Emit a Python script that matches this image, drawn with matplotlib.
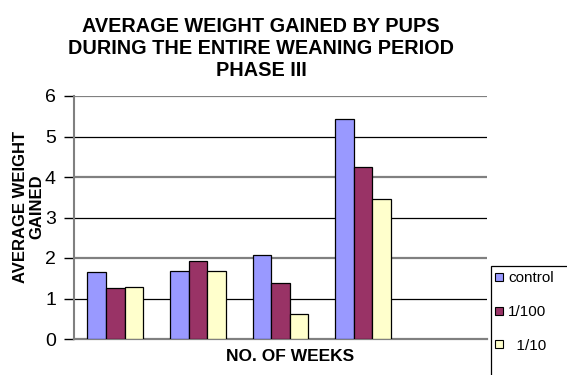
import numpy as np
import matplotlib
matplotlib.use("Agg")
import matplotlib.pyplot as plt
from matplotlib.patches import Rectangle
from matplotlib.lines import Line2D

plt.rcParams["font.family"] = ["Liberation Sans", "DejaVu Sans"]

# data
series = ["control", "1/100", "  1/10"]
control = [1.65, 1.67, 2.07, 5.44]
dose_100 = [1.26, 1.93, 1.38, 4.25]
dose_10 = [1.28, 1.67, 0.62, 3.46]
colors = ["#9999FF", "#993366", "#FFFFCC"]
n_slots = 5  # category axis has one empty slot at the end

fig = plt.figure(figsize=(5.67, 3.75), dpi=100)
ax = fig.add_axes([74 / 567, 1 - 339 / 375, (487 - 74) / 567, (339 - 96) / 375])

x = np.arange(len(control))
w = 0.225
for i, (vals, c, lab) in enumerate(zip([control, dose_100, dose_10], colors, series)):
    ax.bar(x + (i - 1) * w, vals, width=w, color=c, edgecolor="black",
           linewidth=0.9, label=lab, zorder=3)

ax.set_xlim(-0.5, n_slots - 0.5)
ax.set_ylim(0, 6)
ax.set_yticks(range(7))
ax.set_xticks([])
ax.tick_params(axis="y", labelsize=14, length=7, width=1, color="black", pad=6)

# gridlines: even ones render grey, odd ones black in the reference
for yv in range(1, 7):
    if yv % 2 == 0:
        ax.axhline(yv, color="#808080", lw=1.6, zorder=1)
    else:
        ax.axhline(yv, color="black", lw=0.9, zorder=1)

for s in ["top", "right"]:
    ax.spines[s].set_visible(False)
ax.spines["left"].set_color("#808080")
ax.spines["left"].set_linewidth(1.5)
ax.spines["bottom"].set_color("#808080")
ax.spines["bottom"].set_linewidth(1.6)

ax.set_xlabel("NO. OF WEEKS", fontsize=12.5, fontweight="bold")
ax.xaxis.set_label_coords(0.523, -0.04, transform=ax.transAxes)
ax.xaxis.label.set_va("top")

fig.text(29 / 567, 1 - 207 / 375, "AVERAGE WEIGHT\nGAINED", rotation=90,
         ha="center", va="center", fontsize=12, fontweight="bold",
         multialignment="center", linespacing=1.1)

fig.text(261 / 567, 1 - 48 / 375,
         "AVERAGE WEIGHT GAINED BY PUPS\nDURING THE ENTIRE WEANING PERIOD\nPHASE III",
         ha="center", va="center", fontsize=14.3, fontweight="bold", linespacing=1.2)

# legend box runs off the right and bottom edges of the figure
fig.patches.append(Rectangle((491 / 567, -0.05), 0.2, 1 - 266 / 375 + 0.05,
                             transform=fig.transFigure, facecolor="white",
                             edgecolor="black", linewidth=0.9))
handles = [Line2D([], [], linestyle="none", marker="s", markersize=6,
                  markerfacecolor=c, markeredgecolor="black", markeredgewidth=0.8)
           for c in colors]
leg = fig.legend(handles, series, loc="upper left",
                 bbox_to_anchor=(490 / 567, 1 - 268 / 375),
                 fontsize=11, frameon=False, handlelength=0.8,
                 handletextpad=0.2, labelspacing=1.3,
                 borderpad=0.2, borderaxespad=0)

fig.savefig("out.png", dpi=100)
